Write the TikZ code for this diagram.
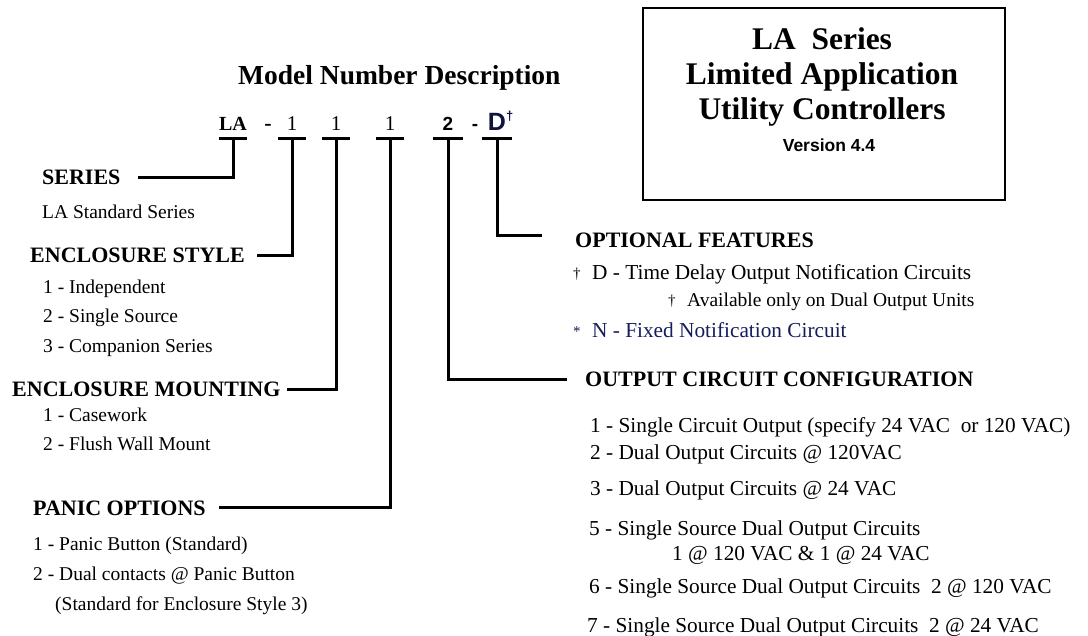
\documentclass[tikz,border=0pt]{standalone}
\usepackage{fontspec}
\setmainfont{Liberation Serif}
\newfontfamily\arialfont{Liberation Sans}
\usepackage{tikz}
\usetikzlibrary{positioning}
\definecolor{notenavy}{RGB}{20,30,90}
\definecolor{codenavy}{RGB}{15,20,60}
\newcommand{\px}[1]{\fontsize{#1}{#1}\selectfont}
\newcommand{\notemark}[1]{\makebox[19pt][l]{\px{15}\raisebox{1pt}{#1}}}
\tikzset{
  heading/.style={inner sep=0pt, anchor=base west, font=\px{22}\bfseries},
  leftitem/.style={inner sep=0pt, anchor=base west, font=\px{19.5}},
  rightitem/.style={inner sep=0pt, anchor=base west, font=\px{21.3}},
  digit/.style={inner sep=0pt, anchor=base, text depth=7pt, minimum width=27pt},
  conn/.style={line width=3pt},
  bannerbox/.style={draw, line width=2.5pt, minimum width=362pt, minimum height=192pt, inner sep=0pt},
  bannerline/.style={inner sep=0pt, anchor=base, font=\px{31.5}\bfseries},
}

\begin{document}
\begin{tikzpicture}[x=1pt, y=-1pt]
  \fill[white] (0,0) rectangle (1088,636);
  \useasboundingbox (0,0) rectangle (1088,636);

  % Title
  \node[heading, font=\px{27.5}\bfseries] (title) at (238,85) {Model Number Description};

  % Model number
  \node[digit, font=\px{20}\bfseries] (dLA) at (233,131) {LA};
  \node[inner sep=0pt, anchor=base, font=\px{22}\bfseries] (dashA) at (268,131) {-};
  \node[digit, font=\px{21}] (dStyle) at (292,131) {1};
  \node[digit, font=\px{21}] (dMount) at (336,131) {1};
  \node[digit, font=\px{21}] (dPanic) at (390,131) {1};
  \node[digit, minimum width=30pt, font=\arialfont\bfseries\px{19}] (dOutput) at (448,131) {2};
  \node[inner sep=0pt, anchor=base, font=\arialfont\bfseries\px{19}] (dashB) at (475,131) {-};
  \node[digit, minimum width=30pt, font=\arialfont\bfseries\px{25}, text=codenavy] (dOption) at (497,131) {D\rlap{\px{13}\raisebox{10pt}{†}}};

  \foreach \d in {dLA,dStyle,dMount,dPanic,dOutput,dOption}
    \draw[conn] (\d.south west) -- (\d.south east);

  % Series
  \node[heading] (series) at (42,185) {SERIES};
  \node[leftitem] (seriesA) at (42,219) {LA Standard Series};

  % Enclosure style
  \node[heading] (style) at (30,263) {ENCLOSURE STYLE};
  \node[leftitem] (styleA) at (43,294) {1 - Independent};
  \node[leftitem] (styleB) at (43,323) {2 - Single Source};
  \node[leftitem] (styleC) at (43,353) {3 - Companion Series};

  % Enclosure mounting
  \node[heading] (mount) at (12,397) {ENCLOSURE MOUNTING};
  \node[leftitem] (mountA) at (43,422) {1 - Casework};
  \node[leftitem] (mountB) at (43,450) {2 - Flush Wall Mount};

  % Panic options
  \node[heading] (panic) at (33,515) {PANIC OPTIONS};
  \node[leftitem] (panicA) at (33,550) {1 - Panic Button (Standard)};
  \node[leftitem] (panicB) at (33,580) {2 - Dual contacts @ Panic Button};
  \node[leftitem] (panicC) at (55,610) {(Standard for Enclosure Style 3)};

  % Optional features
  \node[heading] (option) at (575,248) {OPTIONAL FEATURES};
  \node[rightitem] (optionD) at (573,280) {\notemark{†}D - Time Delay Output Notification Circuits};
  \node[leftitem] (optionNote) at (668,307) {\notemark{†}Available only on Dual Output Units};
  \node[rightitem, text=notenavy] (optionN) at (573,338) {\notemark{*}N - Fixed Notification Circuit};

  % Output circuit configuration
  \node[heading] (output) at (585,387) {OUTPUT CIRCUIT CONFIGURATION};
  \node[rightitem] (outputA) at (590,433) {1 - Single Circuit Output (specify 24 VAC\ \ or 120 VAC)};
  \node[rightitem] (outputB) at (590,460) {2 - Dual Output Circuits @ 120VAC};
  \node[rightitem] (outputC) at (590,495) {3 - Dual Output Circuits @ 24 VAC};
  \node[rightitem] (outputD) at (589,535) {5 - Single Source Dual Output Circuits};
  \node[rightitem] (outputE) at (672,560) {1 @ 120 VAC \& 1 @ 24 VAC};
  \node[rightitem] (outputF) at (589,593) {6 - Single Source Dual Output Circuits\ \ 2 @ 120 VAC};
  \node[rightitem] (outputG) at (587,632) {7 - Single Source Dual Output Circuits\ \ 2 @ 24 VAC};

  % Banner
  \node[bannerbox] (banner) at (824,104) {};
  \node[bannerline] (bannerA) at (822,50) {LA\ \ Series};
  \node[bannerline] (bannerB) at (822,85) {Limited Application};
  \node[bannerline] (bannerC) at (822,120) {Utility Controllers};
  \node[bannerline, font=\arialfont\bfseries\px{17.5}] (bannerV) at (829,152) {Version 4.4};

  % Connectors
  \draw[conn, shorten >=17pt] (dLA.south) |- (series.east);
  \draw[conn, shorten >=12pt] (dStyle.south) |- (style.east);
  \draw[conn, shorten >=6pt] (dMount.south) |- (mount.east);
  \draw[conn, shorten >=13pt] (dPanic.south) |- (panic.east);
  \draw[conn, shorten >=18pt] (dOutput.south) |- (output.west);
  \draw[conn, shorten >=33pt] (dOption.south) |- ([yshift=5pt]option.west);

\end{tikzpicture}
\end{document}
